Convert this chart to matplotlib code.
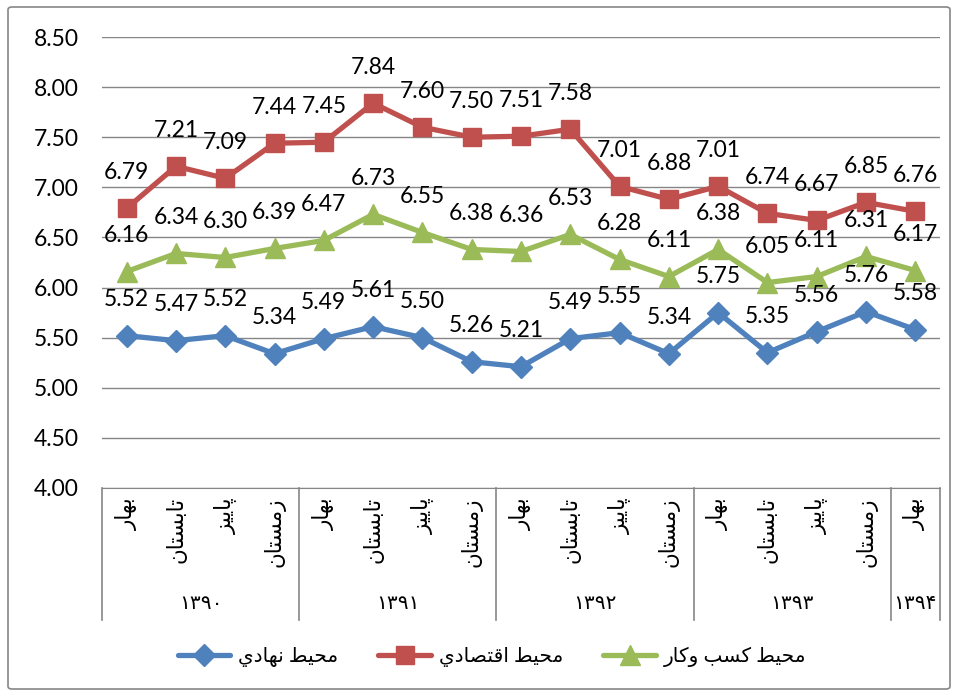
import unicodedata
import matplotlib
matplotlib.use('Agg')
import matplotlib.pyplot as plt
from matplotlib import transforms
from matplotlib.lines import Line2D
from matplotlib.patches import FancyBboxPatch

plt.rcParams['font.family'] = ['Lato', 'DejaVu Sans']

seasons = ['بهار', 'تابستان', 'پاییز', 'زمستان'] * 4 + ['بهار']
years = ['۱۳۹۰', '۱۳۹۱', '۱۳۹۲', '۱۳۹۳', '۱۳۹۴']
year_sizes = [4, 4, 4, 4, 1]

nahadi = [5.52, 5.47, 5.52, 5.34, 5.49, 5.61, 5.50, 5.26, 5.21, 5.49, 5.55, 5.34, 5.75, 5.35, 5.56, 5.76, 5.58]
eghtesadi = [6.79, 7.21, 7.09, 7.44, 7.45, 7.84, 7.60, 7.50, 7.51, 7.58, 7.01, 6.88, 7.01, 6.74, 6.67, 6.85, 6.76]
kasbokar = [6.16, 6.34, 6.30, 6.39, 6.47, 6.73, 6.55, 6.38, 6.36, 6.53, 6.28, 6.11, 6.38, 6.05, 6.11, 6.31, 6.17]

series_names = ['محيط نهادي', 'محيط اقتصادي', 'محيط کسب وکار']
colors = ['#4F81BD', '#C0504D', '#9BBB59']
markers = ['D', 's', '^']
msizes = [11, 13, 14]

RIGHT_ONLY = set('اآأإدذرزژوؤة')


def is_ar(c):
    return '\u0600' <= c <= '\u06FF'


def shape(word):
    # matplotlib does not shape Arabic: pick presentation forms by hand, then reverse
    out = []
    for i, c in enumerate(word):
        if not is_ar(c):
            out.append(c)
            continue
        prev_j = i > 0 and is_ar(word[i - 1]) and word[i - 1] not in RIGHT_ONLY
        next_j = i < len(word) - 1 and is_ar(word[i + 1]) and c not in RIGHT_ONLY
        if prev_j and next_j:
            form = 'MEDIAL'
        elif prev_j:
            form = 'FINAL'
        elif next_j:
            form = 'INITIAL'
        else:
            form = 'ISOLATED'
        try:
            out.append(unicodedata.lookup(unicodedata.name(c) + ' ' + form + ' FORM'))
        except KeyError:
            out.append(c)
    return ''.join(out)[::-1]


fig = plt.figure(figsize=(9.58, 6.93), dpi=100)
fig.patches.append(FancyBboxPatch((8 / 958, 4 / 693), 942 / 958, 682 / 693,
                                  boxstyle='round,pad=0,rounding_size=0.004',
                                  transform=fig.transFigure, fill=False,
                                  edgecolor='#868686', linewidth=1.2))
ax = fig.add_axes([102 / 958, 205 / 693, 838 / 958, 451 / 693])

x = list(range(len(seasons)))
for vals, name, col, mk, ms in zip([nahadi, eghtesadi, kasbokar], series_names, colors, markers, msizes):
    ax.plot(x, vals, color=col, linewidth=3.8, marker=mk, markersize=ms,
            label=shape(name), solid_joinstyle='round', solid_capstyle='round')
    for xi, v in zip(x, vals):
        ax.annotate('%.2f' % v, (xi, v), xytext=(0, 26), textcoords='offset points',
                    ha='center', va='center', fontsize=16.5, color='black')

ax.set_xlim(-0.5, len(seasons) - 0.5)
ax.set_ylim(4.0, 8.5)
ax.set_yticks([4.0 + 0.5 * i for i in range(10)])
ax.set_yticklabels(['%.2f' % (4.0 + 0.5 * i) for i in range(10)], fontsize=16.5)
ax.tick_params(axis='y', length=0, pad=17)
ax.set_xticks([])
ax.grid(axis='y', color='#868686', linewidth=1)
ax.set_axisbelow(True)
for s in ['left', 'right', 'top']:
    ax.spines[s].set_visible(False)
ax.spines['bottom'].set_color('#868686')

# two-level category axis
trans = transforms.blended_transform_factory(ax.transData, ax.transAxes)
bounds = [-0.5]
for n in year_sizes:
    bounds.append(bounds[-1] + n)
for b in bounds:
    ax.add_line(Line2D([b, b], [0, -0.293], transform=trans, color='#868686',
                       linewidth=1.2, clip_on=False))
for xi, s in zip(x, seasons):
    ax.text(xi, -0.02, shape(s), transform=trans, rotation=90,
            ha='center', va='top', fontsize=15.5, clip_on=False)
for i, y in enumerate(years):
    ax.text((bounds[i] + bounds[i + 1]) / 2, -0.257, y, transform=trans,
            ha='center', va='center', fontsize=14.5, clip_on=False)

fig.legend(loc='center', bbox_to_anchor=(492 / 958, 36 / 693), ncol=3, frameon=False,
           fontsize=14.5, handlelength=2.6, columnspacing=2.0, handletextpad=0.4)

fig.savefig('out.png', dpi=100)
